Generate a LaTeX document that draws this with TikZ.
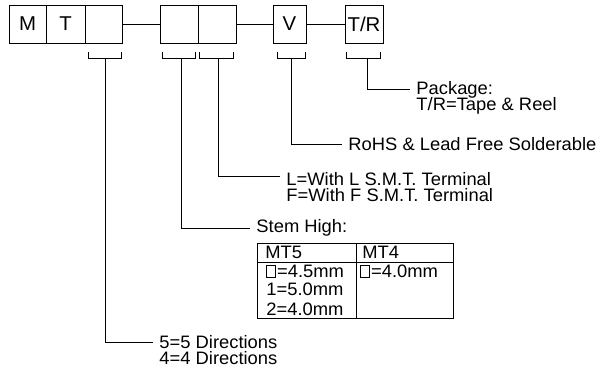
\documentclass[tikz,border=0pt]{standalone}
\usepackage{fontspec}
\setmainfont{Liberation Sans}[FakeStretch=1.02]
\newcommand\sqb{{\fboxsep=0pt\fboxrule=0.6pt\fbox{\rule{0pt}{11pt}\hspace{8pt}}}\hspace{1.5pt}}
\newcommand\lblfont{\fontsize{18}{16}\selectfont\lineskiplimit=-20pt\relax}
\begin{document}
\begin{tikzpicture}[x=1pt,y=-1pt,line width=0.9pt,
  box/.style={draw, minimum height=38pt, inner sep=0pt, font=\fontsize{20}{20}\selectfont},
  txt/.style={anchor=west, inner xsep=6pt, inner ysep=0pt, font=\lblfont},
  txtm/.style={anchor=north west, align=left, inner xsep=6pt, inner ysep=0pt, font=\lblfont},
  cell/.style={anchor=base west, inner sep=0pt, font=\lblfont}]
\useasboundingbox (0,0) rectangle (602,375);
% code boxes
\node[box, minimum width=37pt] (m)  at (27.5,24) {M};
\node[box, minimum width=39pt] (t)  at (65.5,24) {T};
\node[box, minimum width=37pt] (b3) at (103.5,24) {};
\node[box, minimum width=38pt] (p1) at (179,24) {};
\node[box, minimum width=38pt] (p2) at (217,24) {};
\node[box, minimum width=33pt] (v)  at (289.5,24) {V};
\node[box, minimum width=38pt] (tr) at (364,24) {T/R};
\draw (b3.east) -- (p1.west);
\draw (p2.east) -- (v.west);
\draw (v.east) -- (tr.west);
% brackets
\draw (88,52) |- (121,58) -- (121,52);
\draw (162,52) |- (195,58) -- (195,52);
\draw (199,52) |- (233,58) -- (233,52);
\draw (277,52) |- (305,58) -- (305,52);
\draw (346,52) |- (380,58) -- (380,52);
\coordinate (s3) at (105,58);
\coordinate (sp1) at (181,58);
\coordinate (sp2) at (218,58);
\coordinate (sv) at (291,58);
\coordinate (str) at (367,58);
% labels
\node[txtm] (pkg) at (410,81) {Package:\\T/R=Tape \& Reel};
\node[txt] (rohs) at (342,144) {RoHS \& Lead Free Solderable};
\node[txtm] (lf) at (280,172) {L=With L S.M.T. Terminal\\F=With F S.M.T. Terminal};
\node[txt] (stem) at (250,228) {Stem High:};
\node[txtm] (dir) at (153,335) {5=5 Directions\\4=4 Directions};
\coordinate (pkgL) at ([yshift=-8.5pt]pkg.north west);
\coordinate (lfL) at ([yshift=-4.5pt]lf.north west);
\coordinate (dirL) at ([yshift=-7pt]dir.north west);
\draw (str) |- (pkgL);
\draw (sv) |- (rohs.west);
\draw (sp2) |- (lfL);
\draw (sp1) |- (stem.west);
\draw (s3) |- (dirL);
% table
\draw (257,243) rectangle (453,318);
\draw (257,262) -- (453,262);
\draw (356,243) -- (356,318);
\node[cell] (h5) at (265,258) {MT5};
\node[cell] (h4) at (362,258) {MT4};
\node[cell] (r1) at (266,277) {\sqb=4.5mm};
\node[cell] (r2) at (266,295) {1=5.0mm};
\node[cell] (r3) at (266,315) {2=4.0mm};
\node[cell] (r4) at (360,277) {\sqb=4.0mm};
\end{tikzpicture}
\end{document}
